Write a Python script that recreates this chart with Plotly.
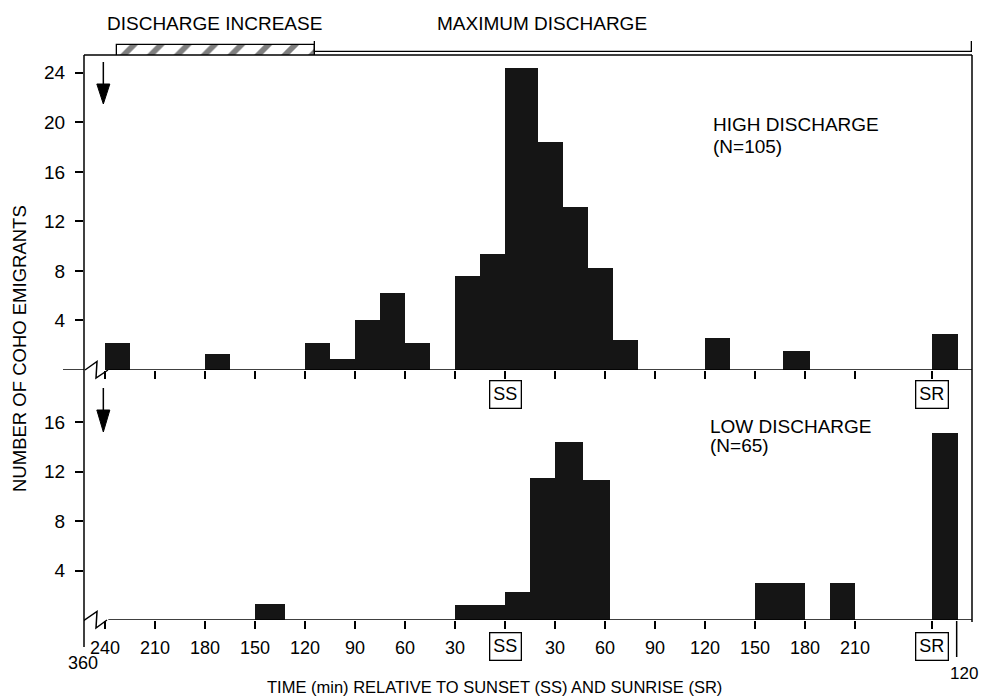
import plotly.graph_objects as go

# ---------------- data ----------------
# time axis: minutes relative to sunset (SS = 0, negative = before sunset)
x_tick_minutes = [-240, -210, -180, -150, -120, -90, -60, -30, 0, 30, 60, 90, 120, 150, 180, 210]
x_tick_labels = ['240', '210', '180', '150', '120', '90', '60', '30', '', '30', '60', '90', '120', '150', '180', '210']
SUNSET = 0
SUNRISE = 256          # position of SR on the time axis
SR_END = 271           # end of the record after sunrise ("120")

# High discharge (N=105)
high_start = [-240, -180, -120, -105, -90, -75, -60, -30, -15, 0, 20, 35, 50, 65, 120, 167, 256]
high_end = [-225, -165, -105, -90, -75, -60, -45, -15, 0, 20, 35, 50, 65, 80, 135, 183, 272]
high_count = [2.2, 1.3, 2.2, 0.9, 4.0, 6.2, 2.2, 7.6, 9.4, 24.4, 18.4, 13.2, 8.2, 2.4, 2.6, 1.5, 2.9]

# Low discharge (N=65)
low_start = [-150, -30, -15, 0, 15, 30, 47, 150, 165, 195, 256]
low_end = [-132, -15, 0, 15, 30, 47, 63, 165, 180, 210, 272]
low_count = [1.3, 1.25, 1.25, 2.3, 11.5, 14.4, 11.3, 3.0, 3.0, 3.0, 15.1]

y_ticks_high = [4, 8, 12, 16, 20, 24]
y_ticks_low = [4, 8, 12, 16]

header_labels = ['DISCHARGE INCREASE', 'MAXIMUM DISCHARGE']
header_start = [-233, -114]
header_end = [-114, 281]
header_label_pos = [-174.6, 21.9]

flow_change_time = -241   # arrow marking start of discharge change

# ---------------- layout helpers (pixel -> paper) ----------------
PL, PR, PT, PB = 84, 972, 41, 620
XMIN = -252.6
XMAX = 280.2


def ppx(p):
    return (p - PL) / (PR - PL)


def ppy(p):
    return (PB - p) / (PB - PT)


top_dom = [ppy(370), ppy(55)]
bot_dom = [0, ppy(370)]
head_dom = [ppy(55), 1.0]

BAR_COLOR = '#151515'
FONT = 'Liberation Sans, Arial, Helvetica, sans-serif'


def centers(s, e):
    return [(a + b) / 2 for a, b in zip(s, e)]


def widths(s, e):
    return [b - a for a, b in zip(s, e)]


fig = go.Figure()

fig.add_trace(go.Bar(x=centers(high_start, high_end), y=high_count, width=widths(high_start, high_end),
                     marker=dict(color=BAR_COLOR, line=dict(width=0)), xaxis='x', yaxis='y'))
fig.add_trace(go.Bar(x=centers(low_start, low_end), y=low_count, width=widths(low_start, low_end),
                     marker=dict(color=BAR_COLOR, line=dict(width=0)), xaxis='x2', yaxis='y2'))

# header band
fig.add_trace(go.Bar(orientation='h', y=[0], x=[header_end[0] - header_start[0]], base=[header_start[0]],
                     width=1, xaxis='x', yaxis='y3', cliponaxis=False,
                     marker=dict(color='white', line=dict(color='black', width=1.3),
                                 pattern=dict(shape='/', fgcolor='black', bgcolor='white', size=19, solidity=0.3))))
fig.add_trace(go.Bar(orientation='h', y=[0], x=[XMAX - header_start[1]], base=[header_start[1]],
                     width=1, xaxis='x', yaxis='y3', cliponaxis=False,
                     marker=dict(color='white', line=dict(color='black', width=1.3))))

tick_common = dict(ticks='outside', ticklen=8, tickwidth=1.5, tickcolor='black', showgrid=False,
                   zeroline=False, showline=False)

fig.update_layout(
    width=981, height=696,
    margin=dict(l=PL, r=981 - PR, t=PT, b=696 - PB),
    plot_bgcolor='white', paper_bgcolor='white',
    showlegend=False, bargap=0,
    font=dict(family=FONT, color='black'),
    xaxis=dict(domain=[0, 1], range=[XMIN, XMAX], anchor='y',
               tickvals=x_tick_minutes + [SUNRISE], ticktext=x_tick_labels + [''],
               showticklabels=False, **tick_common),
    xaxis2=dict(domain=[0, 1], range=[XMIN, XMAX], anchor='y2', matches='x',
                tickvals=x_tick_minutes + [SUNRISE], ticktext=x_tick_labels + [''],
                tickfont=dict(size=18, family=FONT), ticklabelstandoff=3, **tick_common),
    yaxis=dict(domain=top_dom, range=[0, 25.44], anchor='x', tickvals=y_ticks_high,
               tickfont=dict(size=19, family=FONT), ticklabelstandoff=6, **tick_common),
    yaxis2=dict(domain=bot_dom, range=[0, 20.23], anchor='x2', tickvals=y_ticks_low,
                tickfont=dict(size=19, family=FONT), ticklabelstandoff=6, **tick_common),
    yaxis3=dict(domain=head_dom, range=[-0.5, 0.5], anchor='x', visible=False),
)

LW = 1.5
shapes = []
# frame lines
shapes.append(dict(type='line', xref='paper', yref='paper', x0=0, x1=0, y0=ppy(55), y1=ppy(647),
                   line=dict(color='black', width=LW)))
shapes.append(dict(type='line', xref='paper', yref='paper', x0=1, x1=1, y0=ppy(55), y1=ppy(622),
                   line=dict(color='black', width=LW)))
shapes.append(dict(type='line', xref='paper', yref='paper', x0=0, x1=1, y0=ppy(55), y1=ppy(55),
                   line=dict(color='black', width=LW)))
# baselines (after axis break)
shapes.append(dict(type='line', xref='x', yref='y', x0=-238, x1=XMAX, y0=0, y1=0,
                   line=dict(color='black', width=LW)))
shapes.append(dict(type='line', xref='paper', yref='y', x0=ppx(63), x1=0, y0=0, y1=0,
                   line=dict(color='black', width=LW)))
shapes.append(dict(type='line', xref='x2', yref='y2', x0=-238, x1=XMAX, y0=0, y1=0,
                   line=dict(color='black', width=LW)))


# break zigzags
def zig(base, pts):
    d = ''
    for i, (dx, dy) in enumerate(pts):
        d += ('M' if i == 0 else 'L') + f'{dx},{ppy(base + dy)} '
    return d


shapes.append(dict(type='path', xref='x', yref='paper', xsizemode='pixel', xanchor=XMIN,
                   path=zig(370, [(1, 0), (13, -8.5), (12, 8), (24, 0)]),
                   line=dict(color='black', width=LW)))
shapes.append(dict(type='path', xref='x', yref='paper', xsizemode='pixel', xanchor=XMIN,
                   path=zig(621, [(-1, 0), (13, -9.5), (12, 7), (23, -1)]),
                   line=dict(color='black', width=LW)))

# end-of-record tick ("120")
shapes.append(dict(type='line', xref='x2', yref='paper', x0=SR_END, x1=SR_END, y0=ppy(621), y1=ppy(657),
                   line=dict(color='black', width=LW)))


# arrows
def arrow(y_top, y_head, y_tip):
    shapes.append(dict(type='line', xref='x', yref='paper', x0=flow_change_time, x1=flow_change_time,
                       y0=ppy(y_top), y1=ppy(y_head + 2), line=dict(color='black', width=1.5)))
    shapes.append(dict(type='path', xref='x', yref='paper', xsizemode='pixel', xanchor=flow_change_time,
                       path=f'M-6.5,{ppy(y_head)} L6.5,{ppy(y_head)} L0,{ppy(y_tip)} Z',
                       fillcolor='black', line=dict(color='black', width=1)))


arrow(62, 84, 104)
arrow(388, 410, 432)

fig.update_layout(shapes=shapes)

ann = []


def text_ann(text, x, xref, ypix, size, xanchor='center', **kw):
    ann.append(dict(text=text, x=x, xref=xref, y=ppy(ypix), yref='paper', showarrow=False,
                    xanchor=xanchor, yanchor='middle', font=dict(size=size, family=FONT), **kw))


def box(text, x, ypix):
    text_ann(text, x, 'x', ypix, 18, bordercolor='black', borderwidth=1.3, borderpad=3, bgcolor='white')


box('SS', SUNSET, 394)
box('SR', SUNRISE, 394)
box('SS', SUNSET, 646)
box('SR', SUNRISE, 646)

text_ann('360', ppx(83), 'paper', 663, 18)
text_ann('120', ppx(980), 'paper', 674, 17, xanchor='right')

for lab, pos in zip(header_labels, header_label_pos):
    text_ann(lab, pos, 'x', 24, 19)

text_ann('HIGH DISCHARGE', 123.6, 'x', 125, 19, xanchor='left')
text_ann('(N=105)', 123.6, 'x', 146, 19, xanchor='left')
text_ann('LOW DISCHARGE', 121.8, 'x', 426.5, 19, xanchor='left')
text_ann('(N=65)', 121.8, 'x', 445, 19, xanchor='left')

text_ann('NUMBER OF COHO EMIGRANTS', ppx(19), 'paper', 349, 18.5, textangle=-90)
text_ann('TIME (min) RELATIVE TO SUNSET (SS) AND SUNRISE (SR)', ppx(494), 'paper', 687, 16.5)

fig.update_layout(annotations=ann)

fig.write_html('out.html')
